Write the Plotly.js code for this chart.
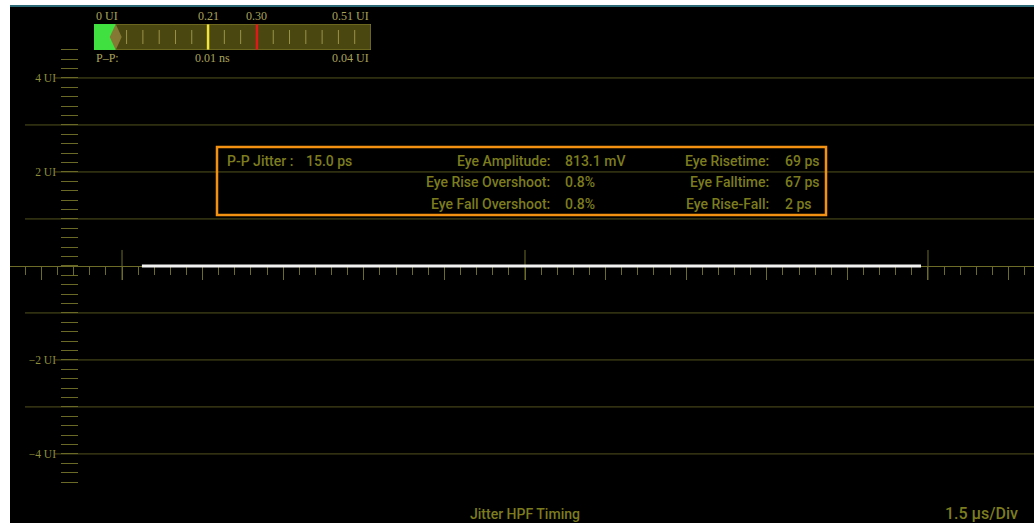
<!DOCTYPE html>
<html><head><meta charset="utf-8">
<script src="https://cdn.plot.ly/plotly-3.0.1.min.js"></script>
<style>html,body{margin:0;padding:0;background:#fff}#chart{width:1034px;height:523px}</style>
</head><body><div id="chart"></div><script>
// ---- data ----
const timeUs = [-7.13, -6.0, -4.5, -3.0, -1.5, 0.0, 1.5, 3.0, 4.5, 6.0, 7.37];
const jitterUI = [0.0, 0.0, 0.0, 0.0, 0.0, 0.0, 0.0, 0.0, 0.0, 0.0, 0.0];
const yTickVals = [4, 2, -2, -4];
const yTickText = ['4 UI', '2 UI', '\u22122 UI', '\u22124 UI'];
const gridUI = [4, 3, 2, 1, -1, -2, -3, -4];
const majorTicksUs = [-7.5, 0, 7.5];
const meterMax = 0.51;
const meterPP = 0.04;
const meterYellow = 0.21;
const meterRed = 0.30;
const meterTopLabels = ['0 UI', '0.21', '0.30', '0.51 UI'];
const meterTopPos = [0, 0.21, 0.30, 0.51];
const meterBottomLabels = ['P\u2013P:', '0.01 ns', '0.04 UI'];
const meterBottomPos = [0, 0.218, 0.51];
const ppJitterLabel = 'P-P Jitter :';
const ppJitterValue = '15.0 ps';
const measLabels1 = ['Eye Amplitude:', 'Eye Rise Overshoot:', 'Eye Fall Overshoot:'];
const measValues1 = ['813.1 mV', '0.8%', '0.8%'];
const measLabels2 = ['Eye Risetime:', 'Eye Falltime:', 'Eye Rise-Fall:'];
const measValues2 = ['69 ps', '67 ps', '2 ps'];
const bottomTitle = 'Jitter HPF Timing';
const scaleLabel = '1.5 \u00b5s/Div';

// ---- helpers (pixel -> paper) ----
const W = 1034, H = 523, ML = 10, MT = 7;
const PW = W - ML, PH = H - MT;
const px = v => (v - ML) / PW;
const py = v => (H - v) / PH;

const GRID = '#53531e';
const AXIS = '#6c6c28';
const DASH = '#6a6a26';
const TXT = '#7c7c1e';
const LBL = '#8e8e3a';
const yRange = [-5.47, 5.51];

const dashVals = [];
for (let k = -23; k <= 23; k++) dashVals.push(+(k * 0.2).toFixed(2));
const meterTicks = [];
for (let k = 2; k <= 16; k++) { const v = +(k * 0.03).toFixed(2); if (v !== meterYellow && v !== meterRed) meterTicks.push(v); }

const traces = [
  {x: timeUs, y: jitterUI, type: 'scatter', mode: 'lines', line: {color: '#f2f2f2', width: 3}, hoverinfo: 'skip', xaxis: 'x', yaxis: 'y'},
  {x: [0], y: [0], type: 'scatter', mode: 'markers', marker: {opacity: 0}, hoverinfo: 'skip', xaxis: 'x', yaxis: 'y2'},
  // meter green fill
  {x: [0, meterPP, meterPP, 0], y: [0, 0, 1, 1], type: 'scatter', mode: 'lines', fill: 'toself', fillcolor: '#3fe03f', line: {width: 0}, xaxis: 'x3', yaxis: 'y3', hoverinfo: 'skip'},
  // meter diamond pointer
  {x: [meterPP - 0.011, meterPP, meterPP + 0.011, meterPP, meterPP - 0.011], y: [0.5, 1, 0.5, 0, 0.5], type: 'scatter', mode: 'lines', fill: 'toself', fillcolor: '#857834', line: {width: 0}, xaxis: 'x3', yaxis: 'y3', hoverinfo: 'skip'},
  // meter ticks
  {x: meterTicks, y: meterTicks.map(() => 0.5), type: 'scatter', mode: 'markers', marker: {symbol: 'line-ns', size: 10, line: {color: '#9a9448', width: 1}}, xaxis: 'x3', yaxis: 'y3', hoverinfo: 'skip'},
  {x: [meterYellow], y: [0.5], type: 'scatter', mode: 'markers', marker: {symbol: 'line-ns', size: 18, line: {color: '#f2e43a', width: 2.5}}, xaxis: 'x3', yaxis: 'y3', hoverinfo: 'skip'},
  {x: [meterRed], y: [0.5], type: 'scatter', mode: 'markers', marker: {symbol: 'line-ns', size: 18, line: {color: '#e01818', width: 2.5}}, xaxis: 'x3', yaxis: 'y3', hoverinfo: 'skip'}
];

const shapes = [];
// top teal bar
shapes.push({type: 'rect', xref: 'paper', yref: 'paper', x0: 0, x1: 1, y0: 1, y1: 1 + 2 / PH, fillcolor: '#2d6a78', line: {width: 0}});
// horizontal grid lines
gridUI.forEach(u => {
  const labeled = yTickVals.includes(u);
  shapes.push({type: 'line', xref: 'paper', yref: 'y', x0: px(labeled ? 55 : 25), x1: 1, y0: u, y1: u, line: {color: GRID, width: 1}, layer: 'below'});
});
// major vertical ticks on time axis
majorTicksUs.forEach(t => {
  shapes.push({type: 'line', xref: 'x', yref: 'y', x0: t, x1: t, y0: -0.30, y1: 0.34, line: {color: AXIS, width: 1}, layer: 'below'});
});
// meter box
shapes.push({type: 'rect', xref: 'x3', yref: 'y3', x0: 0, x1: meterMax, y0: 0, y1: 1, fillcolor: '#4a4710', line: {color: '#8a8630', width: 1}, layer: 'below'});
// measurement box
shapes.push({type: 'rect', xref: 'paper', yref: 'paper', x0: px(217), x1: px(826), y0: py(215), y1: py(147), line: {color: '#f39212', width: 2.5}, layer: 'above'});

const annotations = [];
const serif = {family: 'Liberation Serif, DejaVu Serif, serif', size: 12, color: '#aaa45a'};
meterTopLabels.forEach((t, i) => {
  annotations.push({text: t, xref: 'x3', yref: 'paper', x: meterTopPos[i], y: py(16), showarrow: false,
    xanchor: i === 0 ? 'left' : (i === meterTopLabels.length - 1 ? 'right' : 'center'), yanchor: 'middle', font: serif});
});
meterBottomLabels.forEach((t, i) => {
  annotations.push({text: t, xref: 'x3', yref: 'paper', x: meterBottomPos[i], y: py(58), showarrow: false,
    xanchor: i === 0 ? 'left' : (i === meterBottomLabels.length - 1 ? 'right' : 'center'), yanchor: 'middle', font: serif});
});
const sans = {family: 'Roboto, Liberation Sans, sans-serif', size: 14, weight: 500, color: TXT};
const rowsY = [161, 182, 204];
annotations.push({text: ppJitterLabel, xref: 'paper', yref: 'paper', x: px(225), y: py(rowsY[0]), xanchor: 'left', yanchor: 'middle', showarrow: false, font: sans});
annotations.push({text: ppJitterValue, xref: 'paper', yref: 'paper', x: px(304), y: py(rowsY[0]), xanchor: 'left', yanchor: 'middle', showarrow: false, font: sans});
measLabels1.forEach((t, i) => {
  annotations.push({text: t, xref: 'paper', yref: 'paper', x: px(552), y: py(rowsY[i]), xanchor: 'right', yanchor: 'middle', showarrow: false, font: sans});
  annotations.push({text: measValues1[i], xref: 'paper', yref: 'paper', x: px(563), y: py(rowsY[i]), xanchor: 'left', yanchor: 'middle', showarrow: false, font: sans});
});
measLabels2.forEach((t, i) => {
  annotations.push({text: t, xref: 'paper', yref: 'paper', x: px(771), y: py(rowsY[i]), xanchor: 'right', yanchor: 'middle', showarrow: false, font: sans});
  annotations.push({text: measValues2[i], xref: 'paper', yref: 'paper', x: px(783), y: py(rowsY[i]), xanchor: 'left', yanchor: 'middle', showarrow: false, font: sans});
});
annotations.push({text: bottomTitle, xref: 'paper', yref: 'paper', x: px(525), y: py(514), xanchor: 'center', yanchor: 'middle', showarrow: false, font: {family: 'Roboto, sans-serif', size: 14, weight: 500, color: TXT}});
annotations.push({text: scaleLabel, xref: 'paper', yref: 'paper', x: px(1020), y: py(513), xanchor: 'right', yanchor: 'middle', showarrow: false, font: {family: 'Roboto, sans-serif', size: 16, weight: 500, color: TXT}});

const layout = {
  width: W, height: H,
  margin: {l: ML, r: 0, t: MT, b: 0, pad: 0},
  paper_bgcolor: '#ffffff', plot_bgcolor: '#000000',
  showlegend: false,
  xaxis: {range: [-9.585, 9.473], anchor: 'free', position: py(266), showgrid: false, zeroline: false,
    showline: true, linecolor: AXIS, linewidth: 1, layer: 'below traces',
    ticks: 'outside', tickmode: 'linear', tick0: 0, dtick: 1.5, ticklen: 13, tickwidth: 1, tickcolor: AXIS,
    showticklabels: false, fixedrange: true,
    minor: {ticks: 'outside', tickmode: 'linear', tick0: 0, dtick: 0.3, ticklen: 8, tickwidth: 1, tickcolor: AXIS, showgrid: false}},
  yaxis: {range: yRange, anchor: 'free', position: px(56), showgrid: false, zeroline: false, showline: false,
    tickmode: 'array', tickvals: yTickVals, ticktext: yTickText, ticks: '',
    tickfont: {family: 'Liberation Serif, DejaVu Serif, serif', size: 11.5, color: LBL}, fixedrange: true},
  yaxis2: {range: yRange, overlaying: 'y', anchor: 'free', position: px(60), side: 'left', showgrid: false, zeroline: false,
    showline: false, ticks: 'inside', ticklen: 17, tickwidth: 1, tickcolor: DASH, tickmode: 'array', tickvals: dashVals,
    showticklabels: false, fixedrange: true},
  xaxis3: {domain: [px(94), px(371)], range: [0, meterMax], anchor: 'y3', visible: false, fixedrange: true},
  yaxis3: {domain: [py(50), py(24)], range: [0, 1], anchor: 'x3', visible: false, fixedrange: true},
  shapes: shapes,
  annotations: annotations
};

Plotly.newPlot('chart', traces, layout, {displayModeBar: false, staticPlot: true});
</script></body></html>
